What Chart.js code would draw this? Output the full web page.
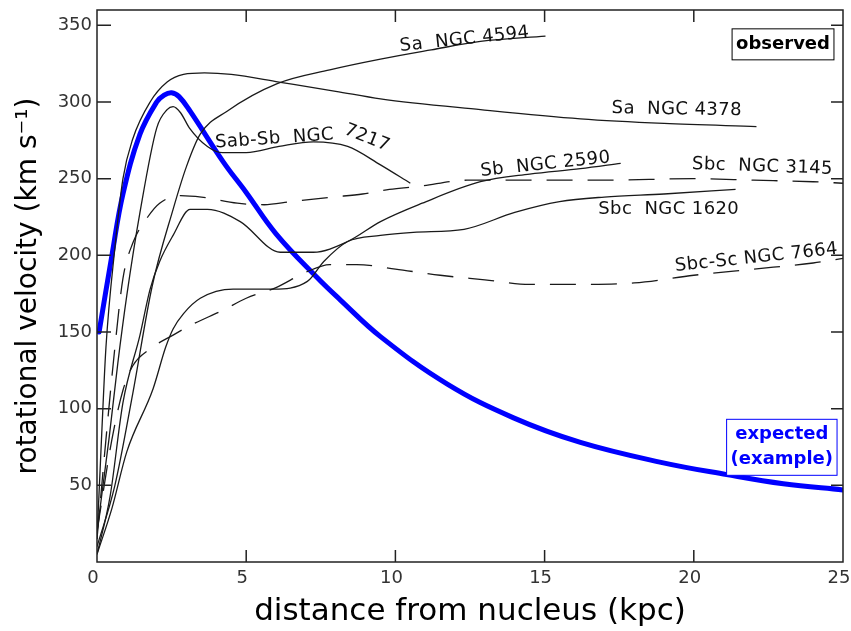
<!DOCTYPE html>
<html>
<head>
<meta charset="utf-8">
<script src="https://cdn.jsdelivr.net/npm/chart.js@4.4.1/dist/chart.umd.min.js"></script>
<style>
  html, body { margin:0; padding:0; background:#fff; }
  #wrap { width:851px; height:631px; }
</style>
</head>
<body>
<div id="wrap"><canvas id="grafico" width="851" height="631"></canvas></div>
<script>
// ── Datos (kpc, km/s) ──────────────────────────────────────────────────────
const xTicks = [0, 5, 10, 15, 20, 25];
const yTicks = [50, 100, 150, 200, 250, 300, 350];

const ngc4594X = [0, 0.6, 1.2, 1.85, 2.55, 3.0, 3.46, 4.36, 6.04, 7.8, 9.5, 11.2, 12.85, 15.03];
const ngc4594V = [10, 50, 110, 180, 230, 258, 279, 294, 312, 321, 328, 334, 339.5, 343];

const ngc4378X = [0, 0.15, 0.3, 0.6, 0.87, 1.2, 1.78, 2.35, 2.9, 3.6, 4.5, 6.1, 8, 9.5, 12.85, 16.2, 19, 22.1];
const ngc4378V = [15, 80, 140, 205, 250, 276, 300, 313, 318, 319, 318, 313, 307, 302, 295, 289, 286, 284];

const ngc7217X = [0, 0.4, 0.7, 1.0, 1.44, 2.0, 2.35, 2.55, 2.8, 3.1, 3.7, 4.2, 5, 6.1, 7.25, 8.4, 9.5, 10.5];
const ngc7217V = [20, 80, 130, 174, 228, 283, 295, 297, 293, 283, 271, 267, 267, 271, 274, 271, 259, 247];

const ngc2590X = [0, 0.44, 0.87, 1.44, 1.78, 2.1, 2.55, 3.12, 3.7, 4.8, 6.14, 7.25, 8.4, 9.5, 10.9, 12.85, 14.5, 16.2, 17.55];
const ngc2590V = [5, 43, 104, 148, 178, 196, 213, 230, 230, 222, 202, 202, 209, 222, 234, 248, 253, 256.5, 260];

const ngc3145X = [0, 0.3, 0.6, 0.87, 1.2, 1.7, 2.1, 2.8, 3.5, 4.7, 5.6, 6.5, 7.9, 8.9, 9.8, 10.8, 12.4, 14.5, 17, 20, 22, 24, 25];
const ngc3145V = [15, 80, 140, 185, 208, 225, 234, 239, 238, 234, 233, 235, 238, 240, 243, 245, 249, 249, 249, 250, 249, 248, 247];

const ngc1620X = [0, 0.5, 1.0, 1.88, 2.3, 2.55, 2.9, 3.46, 4.56, 5.9, 7.05, 7.6, 8.4, 9.5, 10.6, 12.3, 14, 15.5, 17, 19, 21.4];
const ngc1620V = [5, 35, 72, 113, 140, 152, 162, 172, 178, 178, 183, 196, 209, 213, 215, 217, 228, 235, 238, 240, 243];

const ngc7664X = [0, 0.5, 0.87, 1.2, 1.78, 2.55, 3.2, 4.2, 5, 6, 7, 7.8, 8.7, 10, 11.5, 13, 14.5, 16, 18, 20, 22, 24, 25];
const ngc7664V = [20, 80, 112, 128, 139, 148, 155, 164, 172, 179, 189, 194, 194, 191, 187, 184, 181, 181, 182, 187, 191, 195, 198];

const esperadoX = [0.07, 0.5, 0.87, 1.44, 2.0, 2.25, 2.5, 2.75, 3.12, 4.23, 5.0, 6.0, 7.4, 8.15, 9.5, 11.74, 13.96, 16.2, 18.9, 21.1, 23, 25];
const esperadoV = [150, 200, 240, 279, 300, 304.5, 306, 303.5, 294, 261, 241, 214, 185, 171, 147, 116, 94, 78, 65, 57, 51, 47];

// etiquetas de cada curva (posición en kpc / km s-1, giro en grados)
const etiquetas = [
  { t: "Sa  NGC 4594",     x: 12.32, y: 340.8, rot: -6 },
  { t: "Sa  NGC 4378",     x: 19.43, y: 295.1, rot: 1 },
  { t: "Sab-Sb  NGC",      x: 5.95,  y: 276,   rot: -4 },
  { t: "7217",             x: 9.05,  y: 276.5, rot: 22 },
  { t: "Sb  NGC 2590",     x: 15.03, y: 259.2, rot: -6 },
  { t: "Sbc  NGC 3145",    x: 22.3,  y: 257.8, rot: 2 },
  { t: "Sbc  NGC 1620",    x: 19.16, y: 229.7, rot: 0 },
  { t: "Sbc-Sc NGC 7664",  x: 22.1,  y: 198.4, rot: -6 }
];

const pares = (xs, vs) => xs.map((x, i) => ({ x, y: vs[i] }));

function curva(xs, vs, dash) {
  return {
    data: pares(xs, vs), showLine: true, pointRadius: 0,
    borderColor: "#1a1a1a", borderWidth: 1.3, borderDash: dash || [],
    cubicInterpolationMode: "monotone", fill: false
  };
}

// ── Marco con ticks hacia dentro, etiquetas y cajas ───────────────────────
const marco = {
  id: "marco",
  afterDatasetsDraw(chart) {
    const { ctx, chartArea: a, scales: { x, y } } = chart;
    ctx.save();
    ctx.strokeStyle = "#222";
    ctx.lineWidth = 1.5;
    ctx.strokeRect(a.left, a.top, a.right - a.left, a.bottom - a.top);
    ctx.beginPath();
    xTicks.slice(1, -1).forEach(v => {
      const px = x.getPixelForValue(v);
      ctx.moveTo(px, a.bottom); ctx.lineTo(px, a.bottom - 12);
      ctx.moveTo(px, a.top);    ctx.lineTo(px, a.top + 12);
    });
    yTicks.forEach(v => {
      const py = y.getPixelForValue(v);
      ctx.moveTo(a.left, py);  ctx.lineTo(a.left + 14, py);
      ctx.moveTo(a.right, py); ctx.lineTo(a.right - 12, py);
    });
    ctx.stroke();

    ctx.fillStyle = "#111";
    ctx.font = "18px 'DejaVu Sans'";
    ctx.letterSpacing = "0.4px";
    ctx.textAlign = "center"; ctx.textBaseline = "middle";
    etiquetas.forEach(e => {
      ctx.save();
      ctx.translate(x.getPixelForValue(e.x), y.getPixelForValue(e.y));
      ctx.rotate(e.rot * Math.PI / 180);
      ctx.fillText(e.t, 0, 0);
      ctx.restore();
    });
    ctx.letterSpacing = "0px";

    // cajas "observed" / "expected (example)"
    ctx.font = "bold 18px 'DejaVu Sans'";
    const caja = (lineas, cx, cy, color) => {
      const w = Math.max(...lineas.map(l => ctx.measureText(l).width)) + 8;
      const h = lineas.length * 25 + 6;
      const px = x.getPixelForValue(cx), py = y.getPixelForValue(cy);
      ctx.fillStyle = "#fff";
      ctx.fillRect(px - w / 2, py - h / 2, w, h);
      ctx.strokeStyle = color; ctx.lineWidth = 1;
      ctx.strokeRect(px - w / 2, py - h / 2, w, h);
      ctx.fillStyle = color;
      lineas.forEach((l, i) => ctx.fillText(l, px, py - h / 2 + 3 + 12.5 + i * 25));
    };
    caja(["observed"], 22.99, 337.6, "#000");
    caja(["expected", "(example)"], 22.95, 74.8, "#0000ff");
    ctx.restore();
  }
};

new Chart(document.getElementById("grafico"), {
  type: "scatter",
  data: {
    datasets: [
      curva(ngc4594X, ngc4594V),
      curva(ngc4378X, ngc4378V),
      curva(ngc7217X, ngc7217V),
      curva(ngc2590X, ngc2590V),
      curva(ngc3145X, ngc3145V, [26, 15]),
      curva(ngc1620X, ngc1620V),
      curva(ngc7664X, ngc7664V, [26, 15]),
      {
        data: pares(esperadoX, esperadoV), showLine: true, pointRadius: 0,
        borderColor: "#0000ff", borderWidth: 5, borderCapStyle: "round",
        tension: 0.4, fill: false
      }
    ]
  },
  options: {
    responsive: false, animation: false,
    layout: { padding: { top: 10, right: 8, left: 0, bottom: 0 } },
    plugins: { legend: { display: false }, tooltip: { enabled: false } },
    scales: {
      x: {
        type: "linear", min: 0, max: 25,
        afterFit: s => { s.height = 69; s.paddingLeft = 0; s.paddingRight = 0; },
        afterBuildTicks: s => { s.ticks = xTicks.map(v => ({ value: v })); },
        grid: { display: false, drawTicks: false },
        border: { display: false },
        ticks: { color: "#333", font: { family: "DejaVu Sans", size: 18 }, padding: 6, labelOffset: -4 },
        title: { display: true, text: "distance from nucleus (kpc)", color: "#000",
                 font: { family: "DejaVu Sans", size: 31 }, padding: { top: 0, bottom: 0 } }
      },
      y: {
        type: "linear", min: 0, max: 360,
        afterFit: s => { s.width = 97; s.paddingTop = 0; s.paddingBottom = 0; },
        afterBuildTicks: s => { s.ticks = yTicks.map(v => ({ value: v })); },
        grid: { display: false, drawTicks: false },
        border: { display: false },
        ticks: { color: "#333", font: { family: "DejaVu Sans", size: 18 }, padding: 5 },
        title: { display: true, text: "rotational velocity (km s⁻¹)", color: "#000",
                 font: { family: "DejaVu Sans", size: 28 }, padding: { top: 12, bottom: 0 } }
      }
    }
  },
  plugins: [marco]
});
</script>
</body>
</html>
